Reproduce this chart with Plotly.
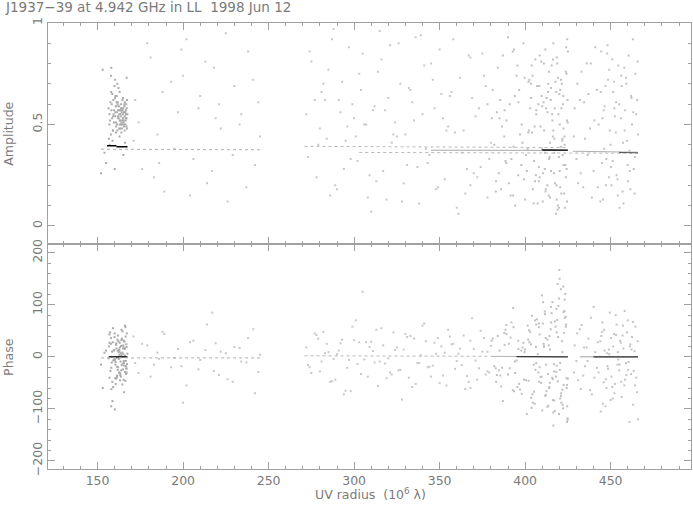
import plotly.graph_objects as go

# ---------------- data ----------------
# dense cluster near 155-168 Mlambda
cl_uv = [159.4,161.8,164.2,166.5,157.3,162.9,165.1,160.6,163.7,167.2,
         156.4,158.9,161.2,164.8,166.9,162.3,159.9,165.6,163.1,157.8,
         160.2,164.0,166.1,162.6,158.3,165.3,161.5,163.9,167.0,159.1,
         156.9,162.0,164.5,166.7,160.9,163.4,158.6,165.8,161.0,164.3,
         157.5,162.8,166.3,160.4,163.6,165.0,159.6,161.9,164.9,167.4,
         158.1,162.2,165.4,163.0,160.7,166.0,157.0,161.4,164.6,162.5,
         159.2,165.9,163.3,166.8,160.1,158.5,164.1,161.6,165.2,162.7,
         156.6,163.8,166.4,160.5,164.4,159.7,162.1,165.7,161.3,167.1,
         158.0,163.5,166.2,160.8,164.7,157.9,162.4,165.5,161.1,163.2,
         159.0,166.6,164.0,160.3,162.9,165.3,158.7,161.7,166.9,163.9,
         152.0,154.0,158.0,165.0,153.0,160.0,167.0,155.0,157.0,166.0]
cl_amp = [0.55,0.61,0.48,0.57,0.52,0.66,0.53,0.59,0.50,0.62,
          0.58,0.47,0.64,0.55,0.49,0.53,0.69,0.60,0.57,0.45,
          0.63,0.51,0.56,0.48,0.60,0.52,0.70,0.46,0.58,0.54,
          0.50,0.57,0.62,0.53,0.49,0.55,0.65,0.47,0.59,0.52,
          0.61,0.44,0.50,0.56,0.60,0.58,0.51,0.54,0.63,0.55,
          0.57,0.68,0.49,0.52,0.46,0.61,0.55,0.50,0.57,0.59,
          0.62,0.54,0.48,0.60,0.72,0.53,0.56,0.47,0.51,0.55,
          0.43,0.58,0.52,0.64,0.50,0.57,0.53,0.59,0.56,0.48,
          0.66,0.54,0.56,0.51,0.53,0.74,0.57,0.50,0.61,0.52,
          0.47,0.55,0.58,0.54,0.50,0.56,0.42,0.60,0.53,0.57,
          0.26,0.36,0.78,0.35,0.77,0.28,0.73,0.31,0.40,0.41]
cl_ph = [12,-25,34,-8,47,-31,5,-52,21,-14,
         -3,28,-40,16,-22,9,38,-17,-45,25,
         -6,52,-29,14,-11,31,-36,3,19,-58,
         43,-20,8,-33,26,-9,-48,17,-2,35,
         -27,11,57,-15,-38,22,-5,41,-24,6,
         -62,30,-12,18,-42,2,27,-19,49,-30,
         -7,15,-35,24,-101,10,-16,33,-44,4,
         20,-26,39,-10,-53,13,-1,29,-37,45,
         -21,7,-46,23,-13,36,-4,-68,16,-32,
         55,-18,1,-41,27,-8,-85,12,-23,32,
         -15,8,-95,20,-60,45,-30,12,-40,60]

# sparse scatter 170-246
a_uv = [172,176,181,185,189,193,197,202,206,210,
        214,218,222,226,230,234,238,242,245,174,
        179,183,188,195,200,204,209,213,217,221,
        225,229,233,237,241,244,171,186,199,219]
a_amp = [0.62,0.28,0.83,0.45,0.17,0.71,0.56,0.92,0.33,0.64,
         0.21,0.78,0.48,0.12,0.69,0.55,0.86,0.30,0.44,0.51,
         0.90,0.24,0.66,0.38,0.74,0.15,0.58,0.81,0.27,0.60,
         0.95,0.35,0.50,0.19,0.72,0.61,0.42,0.31,0.87,0.53]
a_ph = [-12,25,-38,8,44,-20,15,-55,31,-6,
        62,-27,10,-43,19,-9,36,-70,4,-31,
        22,-15,48,-2,-88,28,-24,13,85,-35,
        7,-48,17,-11,53,-29,39,-4,-18,26]

# scatter 271-380
b_uv = [272,275,278,281,284,287,290,293,296,299,
        302,305,308,311,314,317,320,323,326,329,
        332,335,338,341,344,347,350,353,356,359,
        362,365,368,371,374,377,380,273,277,280,
        285,289,292,297,301,304,309,312,316,319,
        324,327,331,334,339,342,346,349,352,357,
        360,364,367,370,373,376,379,283,295,307,
        318,330,343,355,366,378,288,310,336,361,
        274,279,286,291,298,303,306,313,321,325,
        328,333,337,340,345,348,354,358,363,369,
        372,375,378,282,294,300,315,322,351,368]
b_amp = [0.55,0.81,0.24,0.66,0.43,0.92,0.18,0.71,0.49,0.60,
         0.32,0.85,0.14,0.57,0.76,0.27,0.63,0.45,0.90,0.21,
         0.68,0.52,0.11,0.79,0.35,0.58,0.87,0.23,0.64,0.46,
         0.73,0.16,0.83,0.54,0.29,0.69,0.41,0.34,0.62,0.48,
         0.77,0.20,0.56,0.88,0.44,0.67,0.25,0.59,0.82,0.13,
         0.51,0.70,0.30,0.61,0.94,0.38,0.72,0.19,0.53,0.66,
         0.09,0.47,0.84,0.26,0.58,0.74,0.33,0.62,0.42,0.50,
         0.57,0.45,0.31,0.49,0.28,0.60,0.97,0.07,0.93,0.06,
         0.86,0.40,0.15,0.62,0.33,0.75,0.50,0.22,0.89,0.44,
         0.12,0.67,0.29,0.55,0.80,0.18,0.47,0.92,0.36,0.63,
         0.24,0.85,0.14,0.70,0.28,0.53,0.96,0.41,0.65,0.20]
b_ph = [18,-31,42,-9,25,-47,5,33,-21,58,
        -14,125,-38,11,-56,22,-3,47,-26,14,
        -40,35,-12,64,-19,27,-50,8,39,-23,
        16,-62,31,-7,50,-34,21,-16,45,-28,
        9,-44,26,-6,70,-33,19,-11,55,-41,
        13,-25,38,-58,3,30,-17,36,-36,24,
        -8,41,-48,15,-22,36,-30,7,-65,28,
        -13,44,-20,52,-37,10,-4,29,-52,6,
        -20,35,-48,12,-66,28,-5,52,-30,18,
        -82,40,-12,60,-38,6,-55,25,-16,74,
        -44,10,-28,48,-72,32,-9,-34,20,-60]

# denser scatter 380-425
c_uv = [381,383,385,387,389,391,393,395,397,399,
        401,403,405,407,409,411,413,415,417,419,
        421,423,425,382,384,386,388,390,392,394,
        396,398,400,402,404,406,408,410,412,414,
        416,418,420,422,424,424.5,423.5,422.5,421.5,420.5,
        419.5,418.5,424.8,423.2,421.8,420.2,424.2,422.8,421.2,419.8,
        418.2,417.5,416.5,415.5,414.5,383.5,388.5,393.5,398.5,403.5,
        408.5,413.5,386.5,391.5,396.5,401.5,406.5,411.5,416.2,410.8,
        405.2,399.7,394.2,389.1,384.6,424.9,423.8,422.1,420.9,419.1,
        418.8,417.1,416.9,415.1,414.1,413.1,412.1,411.1,409.6,408.1,
        400.5,402.5,404.5,406.5,408.5,410.5,412.5,414.5,416.5,418.5,
        420.5,422.5,424.5,401.8,403.8,405.8,407.8,409.8,411.8,413.8,
        415.8,417.8,419.8,421.8,423.8,424.3,422.3,420.3,418.3,416.3,
        414.3,412.3,410.3,408.3,406.3,404.3,402.3,385.5,390.5,395.5,
        380.5,382.8,387.8,392.8,397.8,424.6,423.1,421.1,419.3,417.3,
        415.2,413.4,411.6,409.4,407.4,405.6,403.4,399.3,396.1,393.2]
c_amp = [0.67,0.22,0.53,0.84,0.31,0.60,0.15,0.74,0.45,0.90,
         0.27,0.58,0.11,0.69,0.49,0.80,0.20,0.62,0.36,0.08,
         0.72,0.44,0.86,0.40,0.78,0.18,0.57,0.93,0.33,0.64,
         0.25,0.50,0.13,0.71,0.46,0.82,0.29,0.59,0.17,0.76,
         0.52,0.06,0.65,0.35,0.88,0.12,0.30,0.48,0.70,0.19,
         0.55,0.83,0.62,0.09,0.42,0.27,0.75,0.16,0.58,0.34,
         0.66,0.21,0.47,0.79,0.14,0.56,0.32,0.87,0.41,0.63,
         0.24,0.70,0.49,0.15,0.67,0.38,0.55,0.28,0.44,0.61,
         0.32,0.73,0.10,0.52,0.26,0.51,0.24,0.60,0.39,0.10,
         0.80,0.43,0.26,0.68,0.33,0.56,0.18,0.47,0.64,0.22,
         0.35,0.72,0.18,0.57,0.84,0.26,0.63,0.41,0.90,0.13,
         0.67,0.30,0.52,0.46,0.79,0.22,0.60,0.38,0.87,0.15,
         0.55,0.71,0.09,0.43,0.76,0.28,0.64,0.50,0.20,0.82,
         0.34,0.58,0.12,0.69,0.25,0.74,0.47,0.62,0.21,0.79,
         0.53,0.17,0.44,0.86,0.30,0.92,0.40,0.16,0.73,0.58,
         0.27,0.66,0.36,0.81,0.11,0.49,0.70,0.23,0.61,0.39]
c_ph = [35,-48,12,-85,61,-22,94,-7,-63,27,
        -110,48,-15,72,-39,19,-96,53,-28,140,
        -75,88,-42,-18,40,-57,23,-34,66,-9,
        31,-71,14,-46,79,-25,57,-103,36,-60,
        105,-38,167,-92,62,-125,121,-54,30,-80,
        98,-17,-118,75,-63,150,-41,46,-88,112,
        -29,68,-107,84,-50,-35,52,-66,18,-79,
        43,-94,-21,37,-52,60,-12,87,-43,25,
        -67,9,-31,44,-26,-121,58,-99,130,-47,
        71,-84,-14,96,-58,33,-73,21,-38,64,
        -45,28,-88,62,-20,105,-66,14,-132,47,
        -12,86,-54,33,-98,70,-30,118,-75,22,
        -40,58,-110,9,77,-60,135,-25,92,-83,
        40,-15,64,-48,19,-72,51,-36,25,-58,
        31,-22,46,-64,12,-95,110,-70,38,-104,
        66,-33,82,-50,5,-90,24,-44,15,57]

# scatter 428-466
d_uv = [429,431,433,435,437,439,441,443,445,447,
        449,451,453,455,457,459,461,463,465,430,
        432,434,436,438,440,442,444,446,448,450,
        452,454,456,458,460,462,464,466,464.5,463.5,
        462.5,465.5,461.5,460.5,459.5,458.5,457.5,456.5,455.5,454.5,
        453.5,452.5,451.5,450.5,449.5,448.5,447.5,446.5,445.5,444.5,
        428.5,430.5,432.5,434.5,436.5,438.5,440.5,442.5,444.2,446.2,
        448.2,450.2,452.2,454.2,456.2,458.2,460.2,462.2,464.2,465.8,
        463.2,461.2,459.2,457.2,455.2,453.2,451.2,449.2,447.2,445.2]
d_amp = [0.58,0.21,0.76,0.43,0.65,0.14,0.88,0.50,0.31,0.69,
         0.24,0.82,0.46,0.60,0.17,0.73,0.37,0.92,0.55,0.33,
         0.62,0.19,0.80,0.48,0.27,0.67,0.12,0.57,0.85,0.40,
         0.71,0.23,0.53,0.78,0.30,0.64,0.16,0.45,0.75,0.28,
         0.50,0.62,0.18,0.84,0.42,0.57,0.11,0.69,0.36,0.79,
         0.25,0.54,0.66,0.20,0.47,0.72,0.33,0.59,0.13,0.86,
         0.44,0.70,0.26,0.61,0.35,0.80,0.52,0.19,0.66,0.38,
         0.89,0.29,0.58,0.15,0.74,0.47,0.22,0.63,0.34,0.81,
         0.56,0.27,0.70,0.41,0.09,0.61,0.32,0.77,0.20,0.53]
d_ph = [22,-45,61,-18,35,-72,9,-30,48,-95,
        14,-58,80,-26,41,-12,-125,67,-40,-8,
        53,-36,18,-64,96,-21,30,-49,7,-83,
        44,-15,27,-55,70,-33,11,-120,58,-27,
        38,-68,24,-10,47,-44,16,-77,31,-5,
        62,-52,20,-38,85,-23,-60,12,-90,40,
        -30,45,-62,18,-8,75,-40,28,-105,52,
        -18,36,-70,9,-48,88,-25,14,-55,30,
        -92,20,-35,60,-15,42,-80,5,-43,66]

# averaged tracks (model-like lines)
amp_trk_uv   = [[155.5, 161.0], [161.0, 167.5], [152, 246], [271, 345, 425], [303, 425, 466], [345, 425], [428, 466], [410, 425], [455, 466]]
amp_trk_val  = [[0.395, 0.395], [0.390, 0.390], [0.378, 0.375], [0.392, 0.390, 0.386], [0.362, 0.360, 0.358], [0.373, 0.372], [0.368, 0.363], [0.374, 0.373], [0.362, 0.360]]
ph_trk_uv    = [[156.5, 167.5], [152, 246], [271, 380], [380, 425], [395, 425], [432, 466], [440, 466]]
ph_trk_val   = [[0, 0], [-2, -2], [2, 1], [1, 0], [0.5, 0], [0, 0], [0, 0]]
trk_style    = ["solid", "solid", "dot", "dot", "dot", "solid", "solid", "solid", "solid"]
trk_color    = ["#000000", "#000000", "#b0b0b0", "#b8b8b8", "#b8b8b8", "#a8a8a8", "#b0b0b0", "#000000", "#555555"]
ph_trk_style = ["solid", "dot", "dot", "solid", "solid", "solid", "solid"]
ph_trk_color = ["#000000", "#b0b0b0", "#b8b8b8", "#b0b0b0", "#333333", "#a0a0a0", "#333333"]

x_ticks = [150, 200, 250, 300, 350, 400, 450]
amp_ticks = [0, 0.5, 1]
ph_ticks = [-200, -100, 0, 100, 200]

# ---------------- figure ----------------
W, H = 693, 511
L, R, T, B = 48, 2.3, 23.3, 42
pw, ph_ = W - L - R, H - T - B
split = (469 - 244.3) / ph_

def px(xp):
    return (xp - L) / pw

def py(yp):
    return (H - B - yp) / ph_

fig = go.Figure()
groups = [(a_uv, a_amp, a_ph, "#c8c8c8"), (b_uv, b_amp, b_ph, "#c8c8c8"),
          (c_uv, c_amp, c_ph, "#c0c0c0"), (d_uv, d_amp, d_ph, "#c4c4c4"),
          (cl_uv, cl_amp, cl_ph, "#ababab")]
for u, a, p, col in groups:
    n = min(len(u), len(a), len(p))
    fig.add_trace(go.Scatter(x=u[:n], y=a[:n], mode="markers", xaxis="x", yaxis="y",
                             marker=dict(size=2, color=col, symbol="square", line=dict(width=0)),
                             showlegend=False, hoverinfo="skip"))
    fig.add_trace(go.Scatter(x=u[:n], y=p[:n], mode="markers", xaxis="x2", yaxis="y2",
                             marker=dict(size=2, color=col, symbol="square", line=dict(width=0)),
                             showlegend=False, hoverinfo="skip"))

for u, v, s, c in zip(amp_trk_uv, amp_trk_val, trk_style, trk_color):
    fig.add_trace(go.Scatter(x=u, y=v, mode="lines", xaxis="x", yaxis="y",
                             line=dict(color=c, width=1.3 if c == "#000000" else 1, dash=s),
                             showlegend=False, hoverinfo="skip"))
for u, v, s, c in zip(ph_trk_uv, ph_trk_val, ph_trk_style, ph_trk_color):
    fig.add_trace(go.Scatter(x=u, y=v, mode="lines", xaxis="x2", yaxis="y2",
                             line=dict(color=c, width=1.3 if c in ("#000000", "#333333") else 1, dash=s),
                             showlegend=False, hoverinfo="skip"))

axcol = "#a0a0a0"
txtcol = "#7a7a7a"
font = dict(family="DejaVu Sans, sans-serif", size=12.5, color=txtcol)
common = dict(showline=True, linecolor=axcol, linewidth=1, mirror="ticks",
              ticks="inside", tickcolor=axcol, ticklen=7, tickwidth=1, automargin=False,
              showgrid=False, zeroline=False, tickfont=font)
xr = [121, 497]
fig.update_layout(
    width=W, height=H, margin=dict(l=L, r=R, t=T, b=B, autoexpand=False),
    paper_bgcolor="white", plot_bgcolor="white",
    xaxis=dict(domain=[0, 1], anchor="y", range=xr, tickvals=x_ticks, showticklabels=False,
               minor=dict(dtick=10, tick0=0, ticks="inside", ticklen=3, tickcolor=axcol), **common),
    yaxis=dict(domain=[split, 1], anchor="x", range=[-0.09, 1.0], tickvals=amp_ticks,
               ticktext=["0", "0.5", "1"], tickangle=-90,
               minor=dict(dtick=0.1, tick0=0, ticks="inside", ticklen=3, tickcolor=axcol), **common),
    xaxis2=dict(domain=[0, 1], anchor="y2", range=xr, tickvals=x_ticks,
                minor=dict(dtick=10, tick0=0, ticks="inside", ticklen=3, tickcolor=axcol), **common),
    yaxis2=dict(domain=[0, split], anchor="x2", range=[-215.5, 216.5], tickvals=ph_ticks,
                ticktext=["\u2212200", "\u2212100", "0", "100", "200"], tickangle=-90,
                minor=dict(dtick=20, tick0=0, ticks="inside", ticklen=3, tickcolor=axcol), **common),
)

ann = [
    dict(text="J1937\u221239 at 4.942 GHz in LL\u00a0\u00a01998 Jun 12", x=px(3), y=py(7.5),
         xanchor="left", yanchor="middle", font=dict(family="DejaVu Sans, sans-serif", size=13.5, color=txtcol)),
    dict(text="Amplitude", x=px(9), y=py(134), textangle=-90, xanchor="center", yanchor="middle", font=font),
    dict(text="Phase", x=px(9), y=py(357), textangle=-90, xanchor="center", yanchor="middle", font=font),
    dict(text="UV radius\u00a0\u00a0(10<sup>6</sup> \u03bb)", x=px(370), y=py(494),
         xanchor="center", yanchor="middle", font=font),
]
for a in ann:
    a.update(xref="paper", yref="paper", showarrow=False)
fig.update_layout(annotations=ann)

fig.write_html("out.html", config={"displayModeBar": False},
               post_script="document.body.style.margin='0px';document.body.style.overflow='hidden';")
